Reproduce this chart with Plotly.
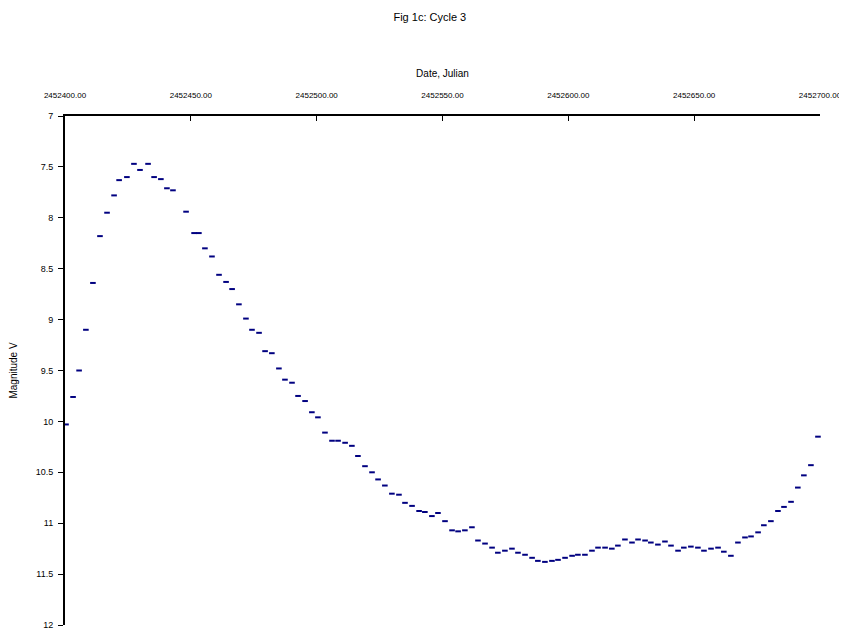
import plotly.graph_objects as go

# Julian date base and observation day offsets
jd_start = 2452400.0
day_offset = [0.4, 3.2, 5.6, 8.3, 11.1, 13.9, 16.7, 19.5, 21.5, 24.6, 27.4, 29.8, 33.0, 35.4, 38.1, 40.5,
              42.9, 48.1, 51.3, 53.2, 55.6, 58.4, 61.2, 64.0, 66.4, 69.1, 71.9, 74.3, 77.1, 79.5, 82.2,
              85.0, 87.4, 90.2, 92.6, 95.4, 98.1, 100.5, 103.3, 106.1, 108.5, 111.3, 114.0, 116.4, 119.2,
              122.0, 124.4, 127.1, 129.9, 132.7, 135.1, 137.9, 140.7, 143.0, 145.8, 148.2, 151.0, 153.8,
              156.2, 158.9, 161.7, 164.1, 166.9, 169.7, 172.0, 174.8, 177.6, 180.0, 182.8, 185.6, 187.9,
              190.7, 193.5, 195.9, 198.7, 201.5, 203.8, 206.6, 209.4, 211.8, 214.6, 217.3, 219.7, 222.5,
              225.3, 227.7, 230.5, 232.8, 235.6, 238.4, 240.8, 243.6, 245.9, 248.7, 251.5, 253.9, 256.7,
              259.5, 261.8, 264.6, 267.4, 270.2, 272.6, 275.4, 277.7, 280.5, 283.3, 285.7, 288.5, 291.2,
              293.6, 296.4, 299.2]

magnitude = [10.03, 9.76, 9.50, 9.10, 8.64, 8.18, 7.95, 7.78, 7.63, 7.60, 7.47, 7.53, 7.47, 7.60, 7.62, 7.71,
             7.73, 7.94, 8.15, 8.15, 8.30, 8.38, 8.56, 8.63, 8.70, 8.85, 8.99, 9.10, 9.13, 9.31, 9.33,
             9.48, 9.59, 9.62, 9.75, 9.80, 9.91, 9.96, 10.11, 10.19, 10.19, 10.21, 10.24, 10.34, 10.44,
             10.50, 10.57, 10.63, 10.71, 10.72, 10.80, 10.83, 10.88, 10.89, 10.93, 10.90, 10.98, 11.07,
             11.08, 11.07, 11.04, 11.17, 11.20, 11.24, 11.29, 11.27, 11.25, 11.29, 11.31, 11.34, 11.37,
             11.38, 11.37, 11.36, 11.34, 11.32, 11.31, 11.31, 11.27, 11.24, 11.24, 11.25, 11.22, 11.16,
             11.19, 11.16, 11.17, 11.19, 11.21, 11.18, 11.22, 11.27, 11.24, 11.23, 11.24, 11.27, 11.25,
             11.24, 11.28, 11.32, 11.19, 11.14, 11.13, 11.09, 11.02, 10.98, 10.88, 10.84, 10.79, 10.65,
             10.53, 10.43, 10.15]

x_tick_values = [2452400, 2452450, 2452500, 2452550, 2452600, 2452650, 2452700]
x_tick_labels = ["2452400.00", "2452450.00", "2452500.00", "2452550.00",
                 "2452600.00", "2452650.00", "2452700.00"]
y_tick_values = [7, 7.5, 8, 8.5, 9, 9.5, 10, 10.5, 11, 11.5, 12]

julian = [jd_start + d for d in day_offset]

fig = go.Figure()
fig.add_trace(go.Scatter(
    x=julian, y=magnitude, mode="markers",
    marker=dict(symbol="line-ew", size=4, line=dict(width=2, color="#000080"), color="#000080"),
    showlegend=False, cliponaxis=False,
))

font_family = "Liberation Sans, Arial, sans-serif"
fig.update_layout(
    width=847, height=623,
    margin=dict(l=57, r=35, t=108, b=6, autoexpand=False),
    paper_bgcolor="white", plot_bgcolor="white",
    font=dict(family=font_family, size=10, color="black"),
    title=dict(text="Fig 1c: Cycle 3", x=0.498, xanchor="center", y=0.9856, yanchor="middle",
               font=dict(size=11, color="black")),
    xaxis=dict(side="top", range=[jd_start, jd_start + 300.01], tickvals=x_tick_values,
               ticktext=x_tick_labels, ticks="inside", ticklen=5, tickcolor="black",
               showline=True, linecolor="black", linewidth=2, showgrid=False, zeroline=False,
               automargin=False, ticklabelstandoff=13, ticklabeloverflow="allow",
               title=dict(text="Date, Julian", font=dict(size=10), standoff=11),
               tickfont=dict(size=8)),
    yaxis=dict(range=[12, 7], tickvals=y_tick_values, ticks="outside", ticklen=5,
               tickcolor="black", showline=True, linecolor="black", linewidth=2,
               showgrid=False, zeroline=False, automargin=False, ticklabelstandoff=3,
               ticklabeloverflow="allow",
               title=dict(text="Magnitude V", font=dict(size=10), standoff=18),
               tickfont=dict(size=9)),
)

fig.write_html("out.html")
